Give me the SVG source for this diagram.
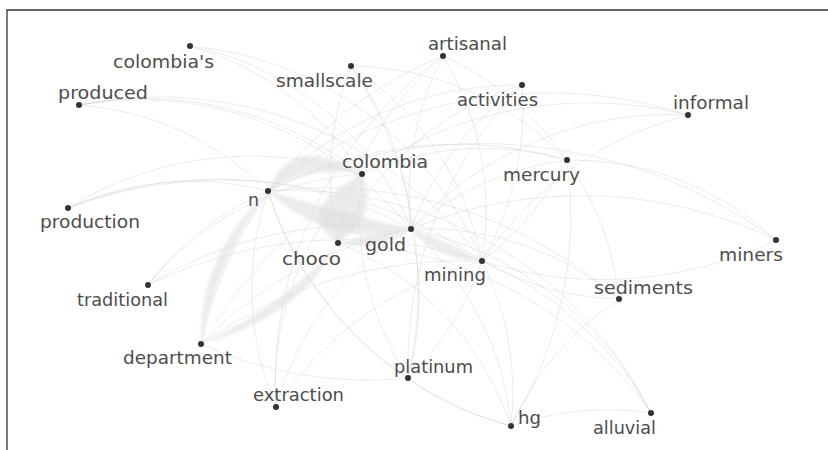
<svg xmlns="http://www.w3.org/2000/svg" width="828" height="450" viewBox="0 0 828 450">
<defs>
<filter id="soft" x="-10%" y="-10%" width="120%" height="120%"><feGaussianBlur stdDeviation="1.5"/></filter>
</defs>
<style>
.e{fill:none;stroke:#bbb;stroke-opacity:.28;stroke-width:1}
.b{fill:#dcdcdc;fill-opacity:.55}
.d{fill:#333}
.l{font-family:"DejaVu Sans",sans-serif;font-size:17px;fill:#4d4d4d;text-anchor:start}
.frame{fill:none;stroke:#333;stroke-width:1.3}
</style>
<rect width="828" height="450" fill="#fff"/>
<path class="frame" d="M7 450 V10 H828"/>
<g id="edges">
<g id="faint">
<path class="e" d="M190 46 A300 300 0 0 1 411 229"/>
<path class="e" d="M190 46 A350 350 0 0 1 482 261"/>
<path class="e" d="M190 46 A300 300 0 0 1 362 174"/>
<path class="e" d="M79 105 A350 350 0 0 1 411 229"/>
<path class="e" d="M79 105 A400 400 0 0 1 482 261"/>
<path class="e" d="M79 105 A350 350 0 0 1 362 174"/>
<path class="e" d="M79 105 A300 300 0 0 1 268 191"/>
<path class="e" d="M351 66 A300 300 0 0 1 411 229"/>
<path class="e" d="M351 66 A300 300 0 0 1 482 261"/>
<path class="e" d="M351 66 A300 300 0 0 1 567 160"/>
<path class="e" d="M351 66 A400 400 0 0 1 408 378"/>
<path class="e" d="M351 66 A300 300 0 0 0 338 243"/>
<path class="e" d="M443 56 A300 300 0 0 0 411 229"/>
<path class="e" d="M443 56 A300 300 0 0 1 482 261"/>
<path class="e" d="M443 56 A300 300 0 0 0 338 243"/>
<path class="e" d="M443 56 A400 400 0 0 0 201 344"/>
<path class="e" d="M443 56 A300 300 0 0 1 567 160"/>
<path class="e" d="M443 56 A400 400 0 0 0 276 407"/>
<path class="e" d="M522 85 A300 300 0 0 0 411 229"/>
<path class="e" d="M522 85 A300 300 0 0 1 482 261"/>
<path class="e" d="M522 85 A300 300 0 0 0 338 243"/>
<path class="e" d="M522 85 A350 350 0 0 0 268 191"/>
<path class="e" d="M522 85 A400 400 0 0 0 408 378"/>
<path class="e" d="M688 115 A350 350 0 0 0 411 229"/>
<path class="e" d="M688 115 A350 350 0 0 0 482 261"/>
<path class="e" d="M688 115 A400 400 0 0 0 362 174"/>
<path class="e" d="M688 115 A450 450 0 0 0 268 191"/>
<path class="e" d="M567 160 A300 300 0 0 0 411 229"/>
<path class="e" d="M567 160 A300 300 0 0 1 482 261"/>
<path class="e" d="M567 160 A300 300 0 0 0 362 174"/>
<path class="e" d="M567 160 A400 400 0 0 0 268 191"/>
<path class="e" d="M567 160 A300 300 0 0 1 619 299"/>
<path class="e" d="M567 160 A300 300 0 0 1 776 240"/>
<path class="e" d="M567 160 A400 400 0 0 1 511 426"/>
<path class="e" d="M68 208 A400 400 0 0 1 411 229"/>
<path class="e" d="M68 208 A450 450 0 0 1 482 261"/>
<path class="e" d="M68 208 A350 350 0 0 1 362 174"/>
<path class="e" d="M68 208 A300 300 0 0 1 268 191"/>
<path class="e" d="M148 285 A400 400 0 0 1 411 229"/>
<path class="e" d="M148 285 A450 450 0 0 1 482 261"/>
<path class="e" d="M148 285 A300 300 0 0 1 362 174"/>
<path class="e" d="M148 285 A300 300 0 0 1 268 191"/>
<path class="e" d="M201 344 A400 400 0 0 1 411 229"/>
<path class="e" d="M201 344 A450 450 0 0 1 482 261"/>
<path class="e" d="M201 344 A400 400 0 0 0 408 378"/>
<path class="e" d="M276 407 A300 300 0 0 1 411 229"/>
<path class="e" d="M276 407 A350 350 0 0 1 482 261"/>
<path class="e" d="M276 407 A300 300 0 0 1 362 174"/>
<path class="e" d="M276 407 A300 300 0 0 1 268 191"/>
<path class="e" d="M408 378 A300 300 0 0 0 411 229"/>
<path class="e" d="M408 378 A300 300 0 0 0 482 261"/>
<path class="e" d="M408 378 A300 300 0 0 1 362 174"/>
<path class="e" d="M408 378 A350 350 0 0 1 268 191"/>
<path class="e" d="M408 378 A300 300 0 0 0 511 426"/>
<path class="e" d="M482 261 A400 400 0 0 0 776 240"/>
<path class="e" d="M482 261 A300 300 0 0 0 619 299"/>
<path class="e" d="M482 261 A300 300 0 0 1 511 426"/>
<path class="e" d="M482 261 A350 350 0 0 1 651 413"/>
<path class="e" d="M776 240 A450 450 0 0 0 411 229"/>
<path class="e" d="M776 240 A500 500 0 0 0 268 191"/>
<path class="e" d="M619 299 A300 300 0 0 0 411 229"/>
<path class="e" d="M619 299 A300 300 0 0 0 511 426"/>
<path class="e" d="M619 299 A450 450 0 0 0 268 191"/>
<path class="e" d="M511 426 A300 300 0 0 0 411 229"/>
<path class="e" d="M511 426 A300 300 0 0 0 338 243"/>
<path class="e" d="M511 426 A350 350 0 0 1 268 191"/>
<path class="e" d="M651 413 A350 350 0 0 0 411 229"/>
<path class="e" d="M651 413 A400 400 0 0 0 268 191"/>
<path class="e" d="M651 413 A400 400 0 0 0 338 243"/>
<path class="e" d="M651 413 A300 300 0 0 0 511 426"/>
</g>
<g id="strong" filter="url(#soft)">
<path class="b" d="M268 191 Q290 130 362 174 Q305 165 268 191 Z"/>
<path class="b" d="M362 174 Q290 212 338 243 Q380 215 362 174 Z"/>
<path class="b" d="M268 191 Q330 250 411 229 Q340 212 268 191 Z"/>
<path class="b" d="M411 229 Q440 262 482 261 Q450 242 411 229 Z"/>
<path class="b" d="M201 344 Q198 255 268 191 Q215 265 201 344 Z"/>
<path class="b" d="M201 344 Q255 252 362 174 Q265 245 201 344 Z"/>
<path class="b" d="M201 344 Q300 318 338 243 Q285 305 201 344 Z"/>
<path class="b" d="M338 243 Q380 252 411 229 Q375 232 338 243 Z"/>
</g>
</g>
<g id="colombias"><circle class="d" cx="190" cy="46" r="3"/><text class="l" x="113" y="68" textLength="101" lengthAdjust="spacingAndGlyphs">colombia's</text></g>
<g id="produced"><circle class="d" cx="79" cy="105" r="3"/><text class="l" x="58" y="99" textLength="90" lengthAdjust="spacingAndGlyphs">produced</text></g>
<g id="smallscale"><circle class="d" cx="351" cy="66" r="3"/><text class="l" x="276" y="87" textLength="97" lengthAdjust="spacingAndGlyphs">smallscale</text></g>
<g id="colombia"><circle class="d" cx="362" cy="174" r="3"/><text class="l" x="342" y="168" textLength="86" lengthAdjust="spacingAndGlyphs">colombia</text></g>
<g id="n"><circle class="d" cx="268" cy="191" r="3"/><text class="l" x="248" y="206" textLength="11" lengthAdjust="spacingAndGlyphs">n</text></g>
<g id="production"><circle class="d" cx="68" cy="208" r="3"/><text class="l" x="40" y="228" textLength="100" lengthAdjust="spacingAndGlyphs">production</text></g>
<g id="artisanal"><circle class="d" cx="443" cy="56" r="3"/><text class="l" x="428" y="50" textLength="79" lengthAdjust="spacingAndGlyphs">artisanal</text></g>
<g id="activities"><circle class="d" cx="522" cy="85" r="3"/><text class="l" x="457" y="106" textLength="81" lengthAdjust="spacingAndGlyphs">activities</text></g>
<g id="informal"><circle class="d" cx="688" cy="115" r="3"/><text class="l" x="673" y="109" textLength="76" lengthAdjust="spacingAndGlyphs">informal</text></g>
<g id="mercury"><circle class="d" cx="567" cy="160" r="3"/><text class="l" x="503" y="181" textLength="77" lengthAdjust="spacingAndGlyphs">mercury</text></g>
<g id="gold"><circle class="d" cx="411" cy="229" r="3"/><text class="l" x="365" y="251" textLength="41" lengthAdjust="spacingAndGlyphs">gold</text></g>
<g id="choco"><circle class="d" cx="338" cy="243" r="3"/><text class="l" x="282" y="265" textLength="59" lengthAdjust="spacingAndGlyphs">choco</text></g>
<g id="mining"><circle class="d" cx="482" cy="261" r="3"/><text class="l" x="424" y="281" textLength="62" lengthAdjust="spacingAndGlyphs">mining</text></g>
<g id="traditional"><circle class="d" cx="148" cy="285" r="3"/><text class="l" x="77" y="306" textLength="91" lengthAdjust="spacingAndGlyphs">traditional</text></g>
<g id="department"><circle class="d" cx="201" cy="344" r="3"/><text class="l" x="123" y="364" textLength="109" lengthAdjust="spacingAndGlyphs">department</text></g>
<g id="extraction"><circle class="d" cx="276" cy="407" r="3"/><text class="l" x="253" y="401" textLength="91" lengthAdjust="spacingAndGlyphs">extraction</text></g>
<g id="platinum"><circle class="d" cx="408" cy="378" r="3"/><text class="l" x="394" y="373" textLength="79" lengthAdjust="spacingAndGlyphs">platinum</text></g>
<g id="miners"><circle class="d" cx="776" cy="240" r="3"/><text class="l" x="719" y="261" textLength="64" lengthAdjust="spacingAndGlyphs">miners</text></g>
<g id="sediments"><circle class="d" cx="619" cy="299" r="3"/><text class="l" x="594" y="294" textLength="99" lengthAdjust="spacingAndGlyphs">sediments</text></g>
<g id="hg"><circle class="d" cx="511" cy="426" r="3"/><text class="l" x="518" y="424" textLength="23" lengthAdjust="spacingAndGlyphs">hg</text></g>
<g id="alluvial"><circle class="d" cx="651" cy="413" r="3"/><text class="l" x="593" y="434" textLength="63" lengthAdjust="spacingAndGlyphs">alluvial</text></g>
</svg>
